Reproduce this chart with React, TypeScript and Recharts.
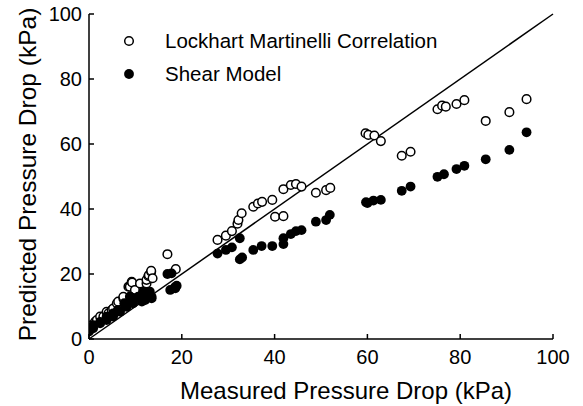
import React from 'react';
import { ScatterChart, Scatter, XAxis, YAxis, ReferenceLine, Legend, Label } from 'recharts';

const FONT = 'Liberation Sans, Arial, sans-serif';

const axisTicks = [0, 20, 40, 60, 80, 100];

// Lockhart Martinelli Correlation (open circles)
const lmMeasured = [
  0.2, 0.6, 1.3, 1.7, 2.4, 3.1, 3.8, 4.2, 4.9, 5.2, 6.0, 6.3, 7.4, 7.4, 8.5, 8.8, 9.2, 9.3, 9.9,
  11.0, 12.4, 12.4, 12.8, 12.9, 13.4, 13.4, 13.7, 16.9, 18.7,
  27.7, 29.5, 30.8, 32.0, 32.2, 32.9, 35.4, 36.4, 37.3, 39.5, 40.1, 41.9, 41.9, 43.5, 44.6, 45.8, 48.9, 51.1, 52.0,
  59.6, 60.2, 61.5, 62.9, 67.4, 69.3, 75.1, 76.1, 76.9, 79.2, 80.9, 85.5, 90.6, 94.3,
];
const lmPredicted = [
  3.8, 4.3, 5.3, 5.8, 6.9, 6.9, 8.4, 7.9, 8.9, 9.4, 11.0, 11.5, 12.5, 13.0, 16.1, 16.1, 17.6, 17.4, 15.1,
  17.1, 17.1, 18.2, 19.4, 19.7, 20.7, 21.0, 18.7, 26.1, 21.5,
  30.5, 31.8, 33.2, 35.5, 36.6, 38.7, 40.7, 41.7, 42.2, 42.8, 37.6, 37.8, 46.1, 47.4, 47.7, 46.9, 45.0, 45.8, 46.5,
  63.3, 62.8, 62.6, 60.9, 56.4, 57.6, 70.7, 71.8, 71.5, 72.3, 73.5, 67.1, 69.8, 73.8,
];

// Shear Model (filled circles)
const shearMeasured = [
  0.0, 0.0, 0.9, 0.9, 2.4, 2.4, 3.8, 3.8, 5.2, 5.2, 6.2, 6.7, 7.6, 8.1, 8.1, 8.8, 8.9, 9.5, 10.6,
  11.4, 11.7, 12.1, 12.4, 13.1, 13.5, 13.5, 16.9, 17.5, 17.8, 18.5, 18.6, 18.9,
  27.7, 29.5, 30.8, 32.5, 32.5, 33.0, 35.4, 37.2, 39.5, 41.9, 41.9, 43.5, 44.6, 45.8, 48.9, 51.1, 51.9,
  59.7, 60.0, 61.3, 62.9, 67.4, 69.3, 75.1, 76.5, 79.2, 80.9, 85.5, 90.6, 94.3,
];
const shearPredicted = [
  2.3, 2.8, 3.3, 4.3, 4.8, 5.3, 5.8, 6.9, 6.9, 7.9, 8.9, 8.4, 11.0, 9.9, 10.5, 13.0, 13.0, 11.0, 13.0,
  11.5, 14.6, 12.0, 13.0, 14.6, 12.5, 13.0, 20.0, 15.1, 20.2, 15.9, 15.6, 16.4,
  26.3, 27.4, 28.2, 31.0, 24.5, 25.1, 27.4, 28.6, 28.6, 31.0, 29.2, 32.3, 33.2, 33.5, 36.1, 36.6, 38.2,
  42.1, 41.8, 42.6, 42.8, 45.6, 46.9, 49.9, 50.7, 52.3, 53.3, 55.3, 58.2, 63.6,
];

const seriesNames = ['Lockhart Martinelli Correlation', 'Shear Model'];

const lmData = lmMeasured.map((x, i) => ({ x, y: lmPredicted[i] }));
const shearData = shearMeasured.map((x, i) => ({ x, y: shearPredicted[i] }));

const OPEN_R = 4.3;
const FILLED_R = 4.9;

const OpenDot = (props: any) => (
  <circle cx={props.cx} cy={props.cy} r={OPEN_R} fill="#fff" stroke="#000" strokeWidth={1.5} />
);
const FilledDot = (props: any) => (
  <circle cx={props.cx} cy={props.cy} r={FILLED_R} fill="#000" stroke="none" />
);

const LegendContent = () => (
  <div style={{ fontFamily: FONT, fontSize: 20.5, color: '#000' }}>
    {seriesNames.map((name, i) => (
      <div key={name} style={{ display: 'flex', alignItems: 'center', height: 32.5 }}>
        <svg width={12} height={12} style={{ display: 'block' }}>
          {i === 0 ? (
            <circle cx={6} cy={6} r={OPEN_R} fill="#fff" stroke="#000" strokeWidth={1.5} />
          ) : (
            <circle cx={6} cy={6} r={FILLED_R} fill="#000" />
          )}
        </svg>
        <span style={{ marginLeft: 30, whiteSpace: 'nowrap' }}>{name}</span>
      </div>
    ))}
  </div>
);

const YTitle = (props: any) => {
  const vb = props.viewBox || {};
  const cx = vb.x + 27;
  const cy = vb.y + vb.height / 2 - 2;
  return (
    <text
      x={cx}
      y={cy}
      transform={`rotate(-90 ${cx} ${cy})`}
      textAnchor="middle"
      dominantBaseline="central"
      fontFamily={FONT}
      fontSize={24.5}
      fill="#000"
    >
      Predicted Pressure Drop (kPa)
    </text>
  );
};

const XTitle = (props: any) => {
  const vb = props.viewBox || {};
  const cx = vb.x + vb.width / 2 + 25;
  const cy = vb.y + 60;
  return (
    <text x={cx} y={cy} textAnchor="middle" fontFamily={FONT} fontSize={24} fill="#000">
      Measured Pressure Drop (kPa)
    </text>
  );
};

const tickStyle = { fill: '#000', fontSize: 20, fontFamily: FONT };

export default function App() {
  return (
    <div style={{ position: 'absolute', left: 0, top: 0, background: '#fff' }}>
      <ScatterChart width={583} height={406} margin={{ top: 14, right: 30, bottom: 0, left: 0 }}>
        <XAxis
          xAxisId="b"
          type="number"
          dataKey="x"
          domain={[0, 100]}
          ticks={axisTicks}
          orientation="bottom"
          height={67}
          tickSize={-5}
          tickMargin={16}
          stroke="#000"
          strokeWidth={1.5}
          tick={tickStyle}
          allowDataOverflow
        >
          <Label content={<XTitle />} />
        </XAxis>
        <XAxis
          xAxisId="t"
          type="number"
          dataKey="x"
          domain={[0, 100]}
          ticks={axisTicks}
          orientation="top"
          height={0}
          tickSize={-5}
          tick={false}
          stroke="#000"
          strokeWidth={1.5}
          allowDataOverflow
        />
        <YAxis
          yAxisId="l"
          type="number"
          dataKey="y"
          domain={[0, 100]}
          ticks={axisTicks}
          orientation="left"
          width={89}
          tickSize={-5}
          tickMargin={12}
          stroke="#000"
          strokeWidth={1.5}
          tick={tickStyle}
          allowDataOverflow
        >
          <Label content={<YTitle />} />
        </YAxis>
        <YAxis
          yAxisId="r"
          type="number"
          dataKey="y"
          domain={[0, 100]}
          ticks={axisTicks}
          orientation="right"
          width={0}
          tickSize={-5}
          tick={false}
          stroke="#000"
          strokeWidth={1.5}
          allowDataOverflow
        />
        <ReferenceLine
          xAxisId="b"
          yAxisId="l"
          segment={[{ x: 0, y: 0 }, { x: 100, y: 100 }]}
          stroke="#000"
          strokeWidth={1.5}
          ifOverflow="visible"
        />
        <Scatter
          name={seriesNames[0]}
          data={lmData}
          xAxisId="b"
          yAxisId="l"
          shape={<OpenDot />}
          isAnimationActive={false}
        />
        <Scatter
          name={seriesNames[1]}
          data={shearData}
          xAxisId="t"
          yAxisId="r"
          shape={<FilledDot />}
          isAnimationActive={false}
        />
        <Legend
          layout="vertical"
          verticalAlign="middle"
          align="center"
          content={<LegendContent />}
          wrapperStyle={{ top: 25, left: 123, width: 'auto', height: 'auto' }}
        />
      </ScatterChart>
    </div>
  );
}
